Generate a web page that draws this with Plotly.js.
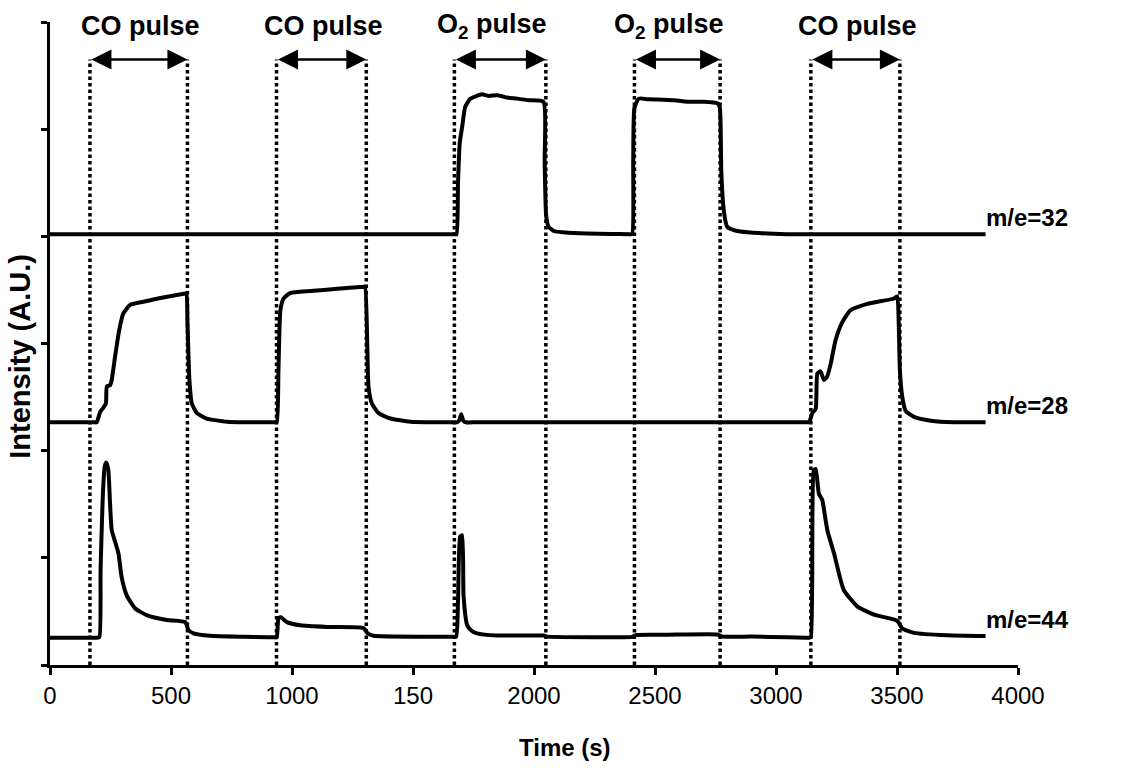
<!DOCTYPE html>
<html>
<head>
<meta charset="utf-8">
<script src="https://cdn.plot.ly/plotly-3.0.1.min.js"></script>
<style>html,body{margin:0;padding:0;background:#fff;}#chart{width:1133px;height:768px;}</style>
</head>
<body>
<div id="chart"></div>
<script>
// ---- data (time in s, intensity in arbitrary units) ----
const t32 = [0, 800, 1600, 1672, 1680, 1686, 1693, 1703, 1716, 1737, 1763, 1785, 1812, 1848, 1889, 1930, 1977, 2039, 2044, 2050, 2060, 2082, 2131, 2219, 2320, 2390, 2405, 2410, 2415, 2433, 2471, 2536, 2581, 2647, 2702, 2759, 2768, 2774, 2784, 2798, 2823, 2853, 2932, 3042, 3866];
const v32 = [4.02, 4.02, 4.02, 4.02, 4.02, 4.5, 4.87, 5.02, 5.21, 5.285, 5.31, 5.325, 5.31, 5.317, 5.295, 5.285, 5.27, 5.255, 4.7, 4.2, 4.09, 4.05, 4.035, 4.027, 4.022, 4.02, 4.02, 4.7, 5.2, 5.285, 5.28, 5.275, 5.27, 5.255, 5.255, 5.24, 5.2, 4.6, 4.245, 4.09, 4.06, 4.045, 4.03, 4.02, 4.02];

const t28 = [0, 100, 180, 193, 207, 220, 231, 235, 248, 255, 269, 286, 303, 331, 386, 468, 559, 564, 568, 576, 586, 607, 647, 731, 813, 900, 928, 937, 944, 952, 965, 992, 1076, 1187, 1296, 1302, 1316, 1330, 1358, 1406, 1489, 1600, 1670, 1681, 1692, 1699, 1708, 1719, 1760, 2400, 3080, 3125, 3137, 3150, 3164, 3171, 3184, 3198, 3211, 3226, 3246, 3274, 3308, 3377, 3488, 3501, 3507, 3512, 3522, 3536, 3570, 3640, 3736, 3866];
const v28 = [2.265, 2.265, 2.265, 2.265, 2.36, 2.40, 2.44, 2.60, 2.61, 2.66, 2.88, 3.125, 3.28, 3.36, 3.39, 3.43, 3.467, 3.47, 3.2, 2.66, 2.44, 2.35, 2.30, 2.27, 2.265, 2.265, 2.265, 2.265, 2.75, 3.31, 3.42, 3.47, 3.49, 3.51, 3.53, 3.53, 2.60, 2.44, 2.35, 2.30, 2.27, 2.265, 2.265, 2.265, 2.285, 2.34, 2.28, 2.265, 2.265, 2.265, 2.265, 2.265, 2.265, 2.35, 2.39, 2.72, 2.74, 2.66, 2.69, 2.81, 3.03, 3.20, 3.31, 3.37, 3.42, 3.44, 3.2, 2.75, 2.50, 2.37, 2.316, 2.28, 2.265, 2.265];

const t44 = [0, 100, 182, 193, 204, 209, 218, 226, 232, 241, 248, 255, 269, 283, 296, 317, 351, 399, 483, 559, 572, 593, 662, 799, 900, 928, 937, 944, 954, 979, 1034, 1144, 1295, 1313, 1337, 1558, 1660, 1678, 1686, 1695, 1703, 1709, 1724, 1742, 1764, 1848, 2040, 2054, 2260, 2405, 2422, 2548, 2757, 2781, 2895, 3050, 3125, 3137, 3144, 3156, 3164, 3177, 3191, 3212, 3240, 3280, 3337, 3405, 3495, 3506, 3522, 3570, 3708, 3866];
const v44 = [0.255, 0.255, 0.255, 0.255, 0.26, 0.886, 1.57, 1.85, 1.89, 1.82, 1.51, 1.26, 1.15, 1.04, 0.82, 0.65, 0.53, 0.466, 0.42, 0.40, 0.326, 0.296, 0.273, 0.264, 0.26, 0.258, 0.258, 0.436, 0.445, 0.40, 0.37, 0.355, 0.345, 0.295, 0.273, 0.264, 0.264, 0.264, 0.6, 1.20, 1.21, 0.64, 0.37, 0.32, 0.295, 0.275, 0.275, 0.265, 0.26, 0.262, 0.28, 0.282, 0.285, 0.265, 0.265, 0.258, 0.255, 0.255, 0.26, 1.82, 1.83, 1.60, 1.54, 1.26, 1.04, 0.70, 0.545, 0.47, 0.42, 0.40, 0.34, 0.30, 0.277, 0.27];

const seriesNames = ['m/e=32', 'm/e=28', 'm/e=44'];

const pulseStart = [165, 936, 1671, 2415, 3144];
const pulseEnd = [568, 1307, 2049, 2769, 3512];
const pulseLabels = ['CO pulse', 'CO pulse', 'O<sub>2</sub> pulse', 'O<sub>2</sub> pulse', 'CO pulse'];

const xTickVals = [0, 500, 1000, 1500, 2000, 2500, 3000, 3500, 4000];
const xTickText = ['0', '500', '1000', '150', '2000', '2500', '3000', '3500', '4000'];
const yTickVals = [0, 1, 2, 3, 4, 5, 6];
const xTitle = 'Time (s)';
const yTitle = 'Intensity (A.U.)';

// ---- styling ----
const FONT = 'Arial, "Liberation Sans", Helvetica, sans-serif';
const ARROW_Y = 5.65;
const LABEL_Y = 5.96;

const series = [[t32, v32], [t28, v28], [t44, v44]];
const traces = series.map((s, i) => ({
  x: s[0], y: s[1], type: 'scatter', mode: 'lines', name: seriesNames[i],
  line: {color: '#000', width: 4, shape: 'spline', smoothing: 0.5}, hoverinfo: 'x+y+name'
}));

const shapes = [];
const annotations = [];
pulseStart.forEach((s, i) => {
  const e = pulseEnd[i];
  [s, e].forEach(xv => shapes.push({
    type: 'line', xref: 'x', yref: 'y', x0: xv, x1: xv, y0: 0, y1: ARROW_Y,
    line: {color: '#000', width: 3.5, dash: '3.5px,3px'}, layer: 'above'
  }));
  annotations.push({
    x: e, y: ARROW_Y, ax: s, ay: ARROW_Y, xref: 'x', yref: 'y', axref: 'x', ayref: 'y',
    text: '', showarrow: true, arrowside: 'end+start', arrowhead: 2, startarrowhead: 2,
    arrowsize: 1.6, startarrowsize: 1.6, arrowwidth: 2.5, arrowcolor: '#000', standoff: 0, startstandoff: 0
  });
  const hasSub = pulseLabels[i].indexOf('<sub>') >= 0;
  annotations.push({
    x: (s + e) / 2, y: LABEL_Y, xref: 'x', yref: 'y', text: '<b>' + pulseLabels[i] + '</b>',
    showarrow: false, font: {family: FONT, size: 27, color: '#000'}, xanchor: 'center', yanchor: 'middle',
    xshift: hasSub ? -8 : 2
  });
});
series.forEach((s, i) => {
  const n = s[0].length;
  annotations.push({
    x: s[0][n - 1], y: s[1][n - 1] + 0.155, xref: 'x', yref: 'y', text: '<b>' + seriesNames[i] + '</b>',
    showarrow: false, xanchor: 'left', yanchor: 'middle', xshift: -2,
    font: {family: FONT, size: 24, color: '#000'}
  });
});
// axis titles (placed as in the reference)
annotations.push({
  xref: 'paper', yref: 'paper', x: 0.532, y: -0.128, xanchor: 'center', yanchor: 'middle',
  text: '<b>' + xTitle + '</b>', showarrow: false, font: {family: FONT, size: 24, color: '#000'}
});
annotations.push({
  xref: 'paper', yref: 'paper', x: -0.0285, y: 0.48, xanchor: 'center', yanchor: 'middle', xshift: -2,
  text: '<b>' + yTitle + '</b>', textangle: -90, showarrow: false, font: {family: FONT, size: 29, color: '#000'}
});

const layout = {
  width: 1133, height: 768,
  margin: {l: 50, r: 115, t: 22, b: 103},
  paper_bgcolor: '#fff', plot_bgcolor: '#fff',
  showlegend: false,
  font: {family: FONT, color: '#000'},
  xaxis: {
    range: [0, 4000], tickvals: xTickVals, ticktext: xTickText,
    showline: true, linecolor: '#000', linewidth: 3, mirror: false,
    ticks: 'outside', ticklen: 7, tickwidth: 3, tickcolor: '#000',
    showgrid: false, zeroline: false,
    tickfont: {family: FONT, size: 24, color: '#000'}
  },
  yaxis: {
    range: [0, 6], tickvals: yTickVals, showticklabels: false,
    showline: true, linecolor: '#000', linewidth: 3,
    ticks: 'outside', ticklen: 6, tickwidth: 3, tickcolor: '#000',
    showgrid: false, zeroline: false
  },
  shapes: shapes,
  annotations: annotations
};

Plotly.newPlot('chart', traces, layout, {displayModeBar: false, staticPlot: true});
</script>
</body>
</html>
